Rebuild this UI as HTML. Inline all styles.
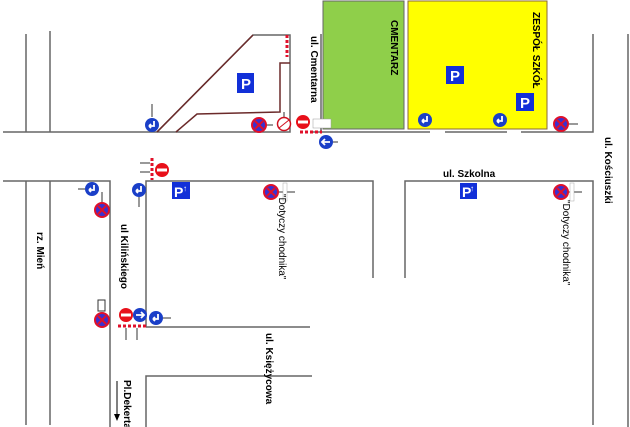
<!DOCTYPE html>
<html><head><meta charset="utf-8"><style>
html,body{margin:0;padding:0;background:#fff}
svg{display:block}
text{font-family:"Liberation Sans",sans-serif;font-weight:bold;font-size:10px;fill:#000}
.n{font-weight:normal}
</style></head><body>
<svg width="630" height="427" viewBox="0 0 630 427" xmlns="http://www.w3.org/2000/svg">
<defs>
<g id="ns"><circle r="7" fill="#3a30d0" stroke="#e0102a" stroke-width="2"/><path d="M-4,-4L4,4M4,-4L-4,4" stroke="#e0102a" stroke-width="2"/></g>
<g id="bl"><circle r="7" fill="#1a3fc8"/><path d="M2,-4v5h-5M-3,1l2,-2M-3,1l2,2" stroke="#fff" stroke-width="1.8" fill="none"/></g>
<g id="ne"><circle r="7" fill="#e8101a"/><rect x="-5" y="-1.5" width="10" height="3" fill="#fff"/></g>
<g id="bt"><circle r="7" fill="#1a3fc8"/><path d="M-4,0h8M1,-3l3,3l-3,3" stroke="#fff" stroke-width="1.8" fill="none"/></g>
</defs>
<g stroke="#666" stroke-width="1.5" fill="none">
<path d="M3,132H290V35H253L157,132"/>
<path d="M176,132L197,114L280,112V63H290" stroke="#6b2a2a"/>
<path d="M26,34V132M50,31V132"/>
<path d="M321,34V132M310,132H430M445,132H507M521,132H593V34M628,34V427"/>
<path d="M3,181H110V427M26,181V425M50,181V425"/>
<path d="M146,327V181H373V278M405,278V181H593V425"/>
<path d="M146,327H310M312,376H146V427"/>
<path d="M157,132L253,35" stroke="#6b2a2a"/>
</g>
<rect x="323" y="1" width="81" height="128" fill="#8fcf4a" stroke="#666"/>
<rect x="408" y="1" width="139" height="128" fill="#ffff00" stroke="#8a6a3a"/>
<line x1="287" y1="35" x2="287" y2="57" stroke="#e0102a" stroke-width="3" stroke-dasharray="3,2"/>
<line x1="300" y1="132" x2="322" y2="132" stroke="#e0102a" stroke-width="3" stroke-dasharray="3,2"/>
<line x1="152" y1="158" x2="152" y2="180" stroke="#e0102a" stroke-width="3" stroke-dasharray="3,2"/>
<line x1="118" y1="326" x2="146" y2="326" stroke="#e0102a" stroke-width="3" stroke-dasharray="3,2"/>
<g stroke="#333" stroke-width="1">
<path d="M152,104V117M266,125H273M284,112V119M331,142H338M140,163H150M140,172H150M139,197V207M85,189H78M102,192V203M276,192H295M566,124H578M566,192H582M161,318H171M126,328V340M137,328V340"/>
</g>
<rect x="237" y="73" width="17" height="20" fill="#1230d8"/><text x="241" y="89" style="fill:#fff;font-size:15px">P</text>
<rect x="446" y="66" width="18" height="18" fill="#1230d8"/><text x="450" y="81" style="fill:#fff;font-size:15px">P</text>
<rect x="516" y="93" width="18" height="18" fill="#1230d8"/><text x="520" y="108" style="fill:#fff;font-size:15px">P</text>
<rect x="172" y="182" width="18" height="17" fill="#1230d8"/><text x="174" y="197" style="fill:#fff;font-size:14px">P</text><text x="183" y="191" style="fill:#fff;font-size:8px">↑</text>
<rect x="460" y="183" width="17" height="16" fill="#1230d8"/><text x="462" y="197" style="fill:#fff;font-size:14px">P</text><text x="470" y="191" style="fill:#fff;font-size:8px">↑</text>
<use href="#bl" x="152" y="125"/>
<use href="#ns" x="259" y="125"/>
<circle cx="284" cy="124" r="6.5" fill="#fff" stroke="#d01020" stroke-width="1.5"/><path d="M279,128L289,120" stroke="#d01020"/>
<use href="#ne" x="303" y="122"/>
<rect x="313" y="119" width="18" height="9" fill="#fff" stroke="#999" stroke-width="0.5"/>
<use href="#bt" x="326" y="142" transform="rotate(180 326 142)"/>
<use href="#ne" x="162" y="170"/>
<use href="#bl" x="139" y="190"/>
<use href="#bl" x="92" y="189"/>
<use href="#ns" x="102" y="210"/>
<use href="#ns" x="271" y="192"/>
<rect x="283" y="183" width="4" height="18" fill="#fff" stroke="#aaa" stroke-width="0.5"/>
<use href="#bl" x="425" y="120"/>
<use href="#bl" x="500" y="120"/>
<use href="#ns" x="561" y="124"/>
<use href="#ns" x="561" y="192"/>
<rect x="570" y="183" width="4" height="18" fill="#fff" stroke="#aaa" stroke-width="0.5"/>
<rect x="98" y="300" width="7" height="11" fill="#fff" stroke="#333" stroke-width="1"/>
<use href="#ns" x="102" y="320"/>
<use href="#ne" x="126" y="315"/>
<use href="#bt" x="140" y="315"/>
<use href="#bl" x="156" y="318"/>
<path d="M117,381V418" stroke="#000"/><path d="M114,414L117,421L120,414Z" fill="#000"/>
<text transform="translate(311,36) rotate(90)">ul. Cmentarna</text>
<text transform="translate(391,20) rotate(90)">CMENTARZ</text>
<text transform="translate(533,12) rotate(90)">ZESPÓŁ SZKÓŁ</text>
<text transform="translate(605,137) rotate(90)">ul. Kościuszki</text>
<text x="443" y="177">ul. Szkolna</text>
<text transform="translate(37,232) rotate(90)">rz. Mień</text>
<text transform="translate(121,224) rotate(90)">ul Kilińskiego</text>
<text transform="translate(266,333) rotate(90)">ul. Księżycowa</text>
<text transform="translate(124,380) rotate(90)">Pl.Dekerta</text>
<text class="n" transform="translate(279,194) rotate(90)">"Dotyczy chodnika"</text>
<text class="n" transform="translate(563,200) rotate(90)">"Dotyczy chodnika"</text>
</svg>
</body></html>
